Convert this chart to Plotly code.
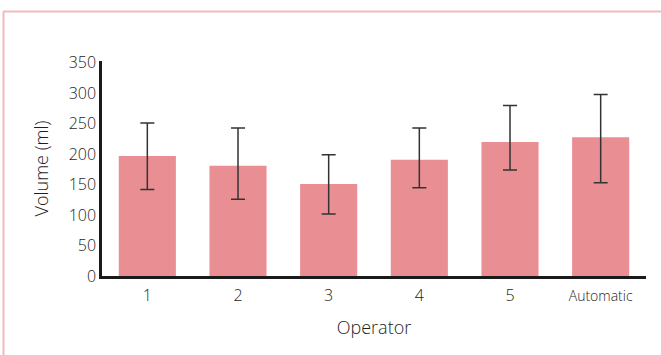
import plotly.graph_objects as go

categories = ["1", "2", "3", "4", "5", "Automatic"]
means = [197, 181, 151, 191, 220, 228]
err_plus = [54, 62, 48, 52, 60, 70]
err_minus = [55, 55, 49, 46, 46, 75]
y_ticks = [0, 50, 100, 150, 200, 250, 300, 350]

W, H = 661, 355
L, R, T, B = 102, 15, 61, 79
pw, ph = W - L - R, H - T - B

def px(x):
    return (x - L) / pw

def py(y):
    return (H - B - y) / ph

ticktext = [c if c != "Automatic" else "<span style='font-size:14px'>Automatic</span>" for c in categories]

fig = go.Figure()
fig.add_trace(go.Bar(
    x=categories, y=means,
    marker=dict(color="#e98f94", line=dict(width=0)),
    width=0.63,
    error_y=dict(type="data", array=err_plus, arrayminus=err_minus, symmetric=False,
                 color="#333333", thickness=1.5, width=7),
))

border = "#f4b9be"
fig.update_layout(
    width=W, height=H,
    margin=dict(l=L, r=R, t=T, b=B),
    paper_bgcolor="white", plot_bgcolor="white",
    font=dict(family="Open Sans, sans-serif", color="#1e1e1e", size=17, weight=300),
    showlegend=False,
    xaxis=dict(
        type="category", range=[-0.5, 5.5],
        tickvals=categories, ticktext=ticktext,
        showline=True, linecolor="#1a1a1a", linewidth=2.5,
        showgrid=False, ticks="", tickfont=dict(size=16, weight=300),
        ticklabelstandoff=3,
        title=dict(text="Operator", font=dict(size=18, weight=300), standoff=17),
    ),
    yaxis=dict(
        range=[0, 353], tickvals=y_ticks,
        showline=True, linecolor="#1a1a1a", linewidth=2.5,
        showgrid=False, zeroline=False, ticks="", tickfont=dict(size=16, weight=300),
        title=dict(text="Volume (ml)", font=dict(size=18, weight=300), standoff=16),
    ),
    shapes=[
        dict(type="line", xref="paper", yref="paper", x0=px(3.5), x1=px(3.5), y0=py(11.5), y1=py(H + 5),
             line=dict(color=border, width=2)),
        dict(type="line", xref="paper", yref="paper", x0=px(3), x1=px(W + 5), y0=py(11.5), y1=py(11.5),
             line=dict(color=border, width=2)),
    ],
)

fig.write_html("out.html", config={"displayModeBar": False},
               post_script="document.body.style.margin='0';document.body.style.overflow='hidden';")
